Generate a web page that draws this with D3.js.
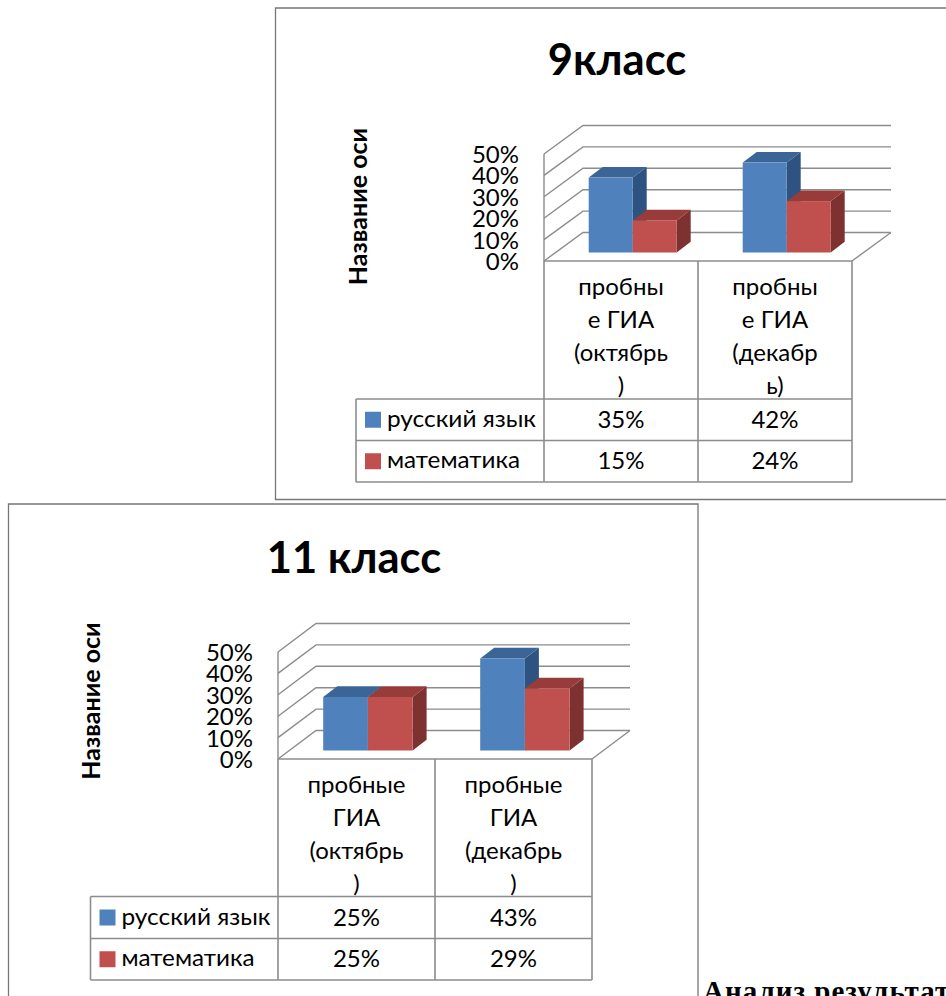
<!DOCTYPE html>
<html>
<head>
<meta charset="utf-8">
<script src="https://cdn.jsdelivr.net/npm/d3@7"></script>
<style>
  html, body { margin: 0; padding: 0; background: #fff; }
  svg { display: block; }
  text { font-family: "Lato", "Open Sans", sans-serif; fill: #000; }
</style>
</head>
<body>
<svg width="946" height="996"></svg>
<script>
var seriesNames = ["русский язык", "математика"];
var seriesColors = ["#4f81bd", "#c0504d"];
var seriesTop = ["#3b6596", "#973c3a"];
var seriesSide = ["#2f5380", "#7d3130"];
var yTicks = [0, 10, 20, 30, 40, 50];

var title9 = "9класс";
var categoryLines9 = [["пробны", "е ГИА", "(октябрь", ")"], ["пробны", "е ГИА", "(декабр", "ь)"]];
var russian9 = [35, 42];
var math9 = [15, 24];

var title11 = "11 класс";
var categoryLines11 = [["пробные", "ГИА", "(октябрь", ")"], ["пробные", "ГИА", "(декабрь", ")"]];
var russian11 = [25, 43];
var math11 = [25, 29];

var svg = d3.select("svg");

var drawChart = function(c) {
  var g = svg.append("g");
  var gray = "#8c8c8c";

  // frame, open on the sides the page cuts off
  g.append("path")
      .attr("d", c.frame)
      .attr("fill", "none")
      .attr("stroke", "#777")
      .attr("stroke-width", 1.3);

  g.append("text")
      .attr("x", c.titleX)
      .attr("y", c.titleY)
      .attr("text-anchor", "middle")
      .style("font-size", "43.5px")
      .style("font-weight", 700)
      .text(c.title);

  g.append("text")
      .attr("transform", "translate(" + c.axisTitleX + "," + c.axisTitleY + ") rotate(-90)")
      .attr("text-anchor", "middle")
      .style("font-size", "25px")
      .style("font-weight", 700)
      .text("Название оси");

  var x = d3.scaleBand().domain([0, 1]).range([c.left, c.right]);
  var inner = d3.scaleBand().domain([0, 1]).range([0, c.barWidth * 2]);
  var y = d3.scaleLinear().domain([0, 50]).range([c.floor, c.floor - 107]);

  var dx = c.depthX, dy = 28.5;

  // walls and gridlines
  yTicks.forEach(function(t) {
    g.append("path")
        .attr("d", "M" + c.left + "," + y(t) + "l" + dx + "," + (-dy) + "H" + (c.right + dx))
        .attr("fill", "none")
        .attr("stroke", gray)
        .attr("stroke-width", 1.4);
  });
  g.append("line")
      .attr("x1", c.left).attr("x2", c.left)
      .attr("y1", y(0)).attr("y2", y(50))
      .attr("stroke", gray).attr("stroke-width", 1.4);
  g.append("line")
      .attr("x1", c.right).attr("x2", c.right + dx)
      .attr("y1", y(0)).attr("y2", y(0) - dy)
      .attr("stroke", gray).attr("stroke-width", 1.4);

  // tick labels
  yTicks.forEach(function(t) {
    g.append("text")
        .attr("x", c.left - 25)
        .attr("y", y(t) + 9)
        .attr("text-anchor", "end")
        .style("font-size", "24px")
        .text(t + "%");
  });

  // bars, floor shift puts them a third of the way back
  var baseDx = 0.3 * dx, baseDy = 8.5, barDx = 14, barDy = 10.7;
  [c.a, c.b].forEach(function(vals, s) {
    vals.forEach(function(v, i) {
      var x0 = x(i) + (x.bandwidth() - c.barWidth * 2) / 2 + baseDx + inner(s);
      var x1 = x0 + inner.bandwidth();
      var top = y(v) - baseDy, bot = y(0) - baseDy;
      g.append("path")
          .attr("d", "M" + x1 + "," + bot + "L" + x1 + "," + top + "l" + barDx + "," + (-barDy) + "L" + (x1 + barDx) + "," + (bot - barDy) + "Z")
          .attr("fill", seriesSide[s]);
      g.append("path")
          .attr("d", "M" + x0 + "," + top + "L" + x1 + "," + top + "l" + barDx + "," + (-barDy) + "L" + (x0 + barDx) + "," + (top - barDy) + "Z")
          .attr("fill", seriesTop[s]);
      g.append("rect")
          .attr("x", x0).attr("y", top)
          .attr("width", x1 - x0).attr("height", bot - top)
          .attr("fill", seriesColors[s]);
    });
  });

  // data table
  var r0 = c.rows[0], r1 = c.rows[1], r2 = c.rows[2];
  var mid = c.left + x.bandwidth();
  var lines = [
    [c.left, y(0), c.right, y(0)],
    [c.left, y(0), c.left, r2],
    [mid, y(0), mid, r2],
    [c.right, y(0), c.right, r2],
    [c.tableLeft, r0, c.right, r0],
    [c.tableLeft, r1, c.right, r1],
    [c.tableLeft, r2, c.right, r2],
    [c.tableLeft, r0, c.tableLeft, r2]
  ];
  g.selectAll(".cell-line")
    .data(lines)
    .enter().append("line")
      .attr("class", "cell-line")
      .attr("x1", function(d) { return d[0]; })
      .attr("y1", function(d) { return d[1]; })
      .attr("x2", function(d) { return d[2]; })
      .attr("y2", function(d) { return d[3]; })
      .attr("stroke", gray)
      .attr("stroke-width", 1.6);

  c.cats.forEach(function(rows, i) {
    rows.forEach(function(t, j) {
      g.append("text")
          .attr("x", x(i) + x.bandwidth() / 2)
          .attr("y", y(0) + 34 + j * 33)
          .attr("text-anchor", "middle")
          .style("font-size", "24px")
          .text(t);
    });
  });

  seriesNames.forEach(function(name, s) {
    var rowMid = (c.rows[s] + c.rows[s + 1]) / 2;
    g.append("rect")
        .attr("x", c.tableLeft + 9).attr("y", rowMid - 8)
        .attr("width", 16).attr("height", 16)
        .attr("fill", seriesColors[s]);
    g.append("text")
        .attr("x", c.tableLeft + 31)
        .attr("y", rowMid + 7)
        .style("font-size", "24px")
        .attr("textLength", s == 0 ? 149 : 133)
        .attr("lengthAdjust", "spacingAndGlyphs")
        .text(name);
    (s == 0 ? c.a : c.b).forEach(function(v, i) {
      g.append("text")
          .attr("x", x(i) + x.bandwidth() / 2)
          .attr("y", rowMid + 8)
          .attr("text-anchor", "middle")
          .style("font-size", "24px")
          .text(v + "%");
    });
  });
};

drawChart({
  title: title9, cats: categoryLines9, a: russian9, b: math9,
  frame: "M946,8H275.5V499.5H946",
  titleX: 617, titleY: 75, axisTitleX: 367, axisTitleY: 206.5,
  left: 544, right: 852, floor: 261, depthX: 39, barWidth: 44,
  tableLeft: 356, rows: [399, 440.5, 482]
});

drawChart({
  title: title11, cats: categoryLines11, a: russian11, b: math11,
  frame: "M8.5,996V504H698V996",
  titleX: 354, titleY: 573, axisTitleX: 100, axisTitleY: 701,
  left: 278, right: 592, floor: 759, depthX: 38, barWidth: 44.7,
  tableLeft: 90.5, rows: [896.5, 938.5, 980]
});

svg.append("text")
    .attr("x", 703)
    .attr("y", 1001)
    .style("font-family", "'Liberation Serif', serif")
    .style("font-size", "29px")
    .style("font-weight", 700)
    .style("letter-spacing", "1px")
    .text("Анализ результат");
</script>
</body>
</html>
